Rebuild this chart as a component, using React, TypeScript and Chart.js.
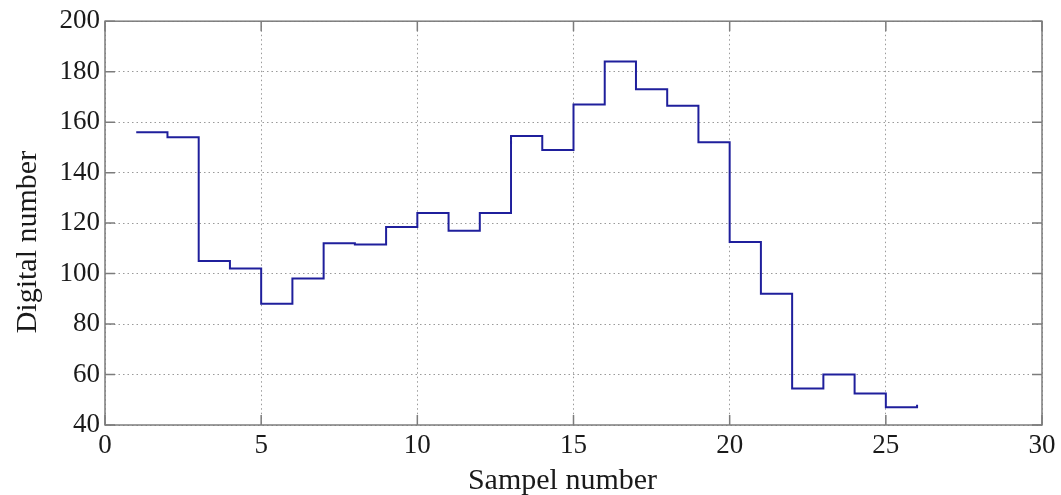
import React, { useEffect, useRef } from "react";
import { Chart, registerables } from "chart.js";

Chart.register(...registerables);

const sampleNumbers = [1, 2, 3, 4, 5, 6, 7, 8, 9, 10, 11, 12, 13, 14, 15, 16, 17, 18, 19, 20, 21, 22, 23, 24, 25, 26];
const digitalNumbers = [156, 154, 105, 102, 88, 98, 112, 111.5, 118.5, 124, 117, 124, 154.5, 149, 167, 184, 173, 166.5, 152, 112.5, 92, 54.5, 60, 52.5, 47, 48];
const xTicks = [0, 5, 10, 15, 20, 25, 30];
const yTicks = [40, 60, 80, 100, 120, 140, 160, 180, 200];
const xTitle = "Sampel number";
const yTitle = "Digital number";

const FONT = "'Liberation Serif', 'Times New Roman', serif";
const TEXT = "#1a1a1a";
const AXIS = "#7c7c7c";

const framePlugin = {
  id: "matlabFrame",
  afterDraw(chart: any) {
    const { ctx, chartArea, scales } = chart;
    const { left, right, top, bottom } = chartArea;
    const xs = scales.x;
    const ys = scales.y;
    ctx.save();
    ctx.strokeStyle = AXIS;
    ctx.lineWidth = 1.5;
    ctx.setLineDash([]);
    const tl = 10;
    ctx.beginPath();
    xs.ticks.forEach((t: any) => {
      const px = xs.getPixelForValue(t.value);
      ctx.moveTo(px, bottom);
      ctx.lineTo(px, bottom - tl);
      ctx.moveTo(px, top);
      ctx.lineTo(px, top + tl);
    });
    ys.ticks.forEach((t: any) => {
      const py = ys.getPixelForValue(t.value);
      ctx.moveTo(left, py);
      ctx.lineTo(left + tl, py);
      ctx.moveTo(right, py);
      ctx.lineTo(right - tl, py);
    });
    ctx.stroke();
    ctx.strokeRect(left, top, right - left, bottom - top);

    ctx.fillStyle = TEXT;
    ctx.font = `30px ${FONT}`;
    ctx.textAlign = "center";
    ctx.textBaseline = "alphabetic";
    ctx.fillText(xTitle, (left + right) / 2 - 11, bottom + 64);

    ctx.translate(36, (top + bottom) / 2 + 19);
    ctx.rotate(-Math.PI / 2);
    ctx.fillText(yTitle, 0, 0);
    ctx.restore();
  },
};

export default function App() {
  const ref = useRef<HTMLCanvasElement | null>(null);

  useEffect(() => {
    if (!ref.current) return;
    const chart = new Chart(ref.current, {
      type: "line",
      data: {
        datasets: [
          {
            data: sampleNumbers.map((x, i) => ({ x, y: digitalNumbers[i] })),
            borderColor: "#1f1f9c",
            borderWidth: 2,
            pointRadius: 0,
            stepped: "before",
            fill: false,
          },
        ],
      },
      options: {
        animation: false,
        responsive: true,
        maintainAspectRatio: false,
        layout: { padding: { top: 16, right: 19, left: 0, bottom: 0 } },
        plugins: { legend: { display: false }, tooltip: { enabled: false } },
        scales: {
          x: {
            type: "linear",
            min: 0,
            max: 30,
            afterBuildTicks: (s: any) => {
              s.ticks = xTicks.map((v) => ({ value: v }));
            },
            afterFit: (s: any) => {
              s.height = 70;
            },
            grid: { color: "#9a9a9a", lineWidth: 1, drawTicks: false },
            border: { display: false, dash: [1.5, 3] },
            ticks: {
              autoSkip: false,
              maxRotation: 0,
              padding: 5,
              color: TEXT,
              font: { family: FONT, size: 27 },
            },
          },
          y: {
            type: "linear",
            min: 40,
            max: 200,
            afterBuildTicks: (s: any) => {
              s.ticks = yTicks.map((v) => ({ value: v }));
            },
            afterFit: (s: any) => {
              s.width = 105;
            },
            grid: { color: "#9a9a9a", lineWidth: 1, drawTicks: false },
            border: { display: false, dash: [1.5, 3] },
            ticks: {
              autoSkip: false,
              padding: 5,
              color: TEXT,
              font: { family: FONT, size: 27 },
            },
          },
        },
      },
      plugins: [framePlugin],
    });
    return () => chart.destroy();
  }, []);

  return (
    <div style={{ position: "fixed", left: 0, top: 0, width: 1061, height: 495, background: "#fff" }}>
      <canvas ref={ref} />
    </div>
  );
}
